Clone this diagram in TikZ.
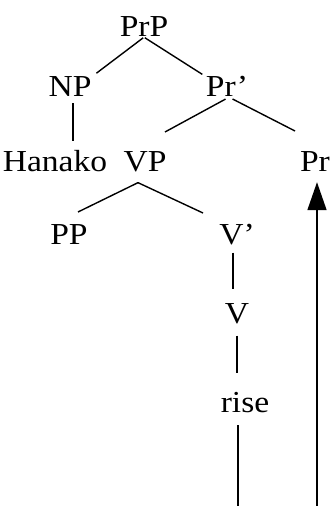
\documentclass[tikz,border=0pt]{standalone}
\usepackage{fontspec}
\setmainfont{Liberation Serif}[FakeStretch=1.1]
\usetikzlibrary{arrows.meta}

\begin{document}
\begin{tikzpicture}[x=1pt, y=1pt,
    cat/.style={inner sep=0pt, anchor=base, font=\fontsize{30.5}{36}\selectfont},
    branch/.style={line width=1.4pt}]
    \useasboundingbox (0,0) rectangle (332,506);
    % Category labels
    \node[cat] (PrP) at (144,469) {PrP};
    \node[cat] (NP) at (70,409) {NP};
    \node[cat] (Prbar) at (227,409) {Pr’};
    \node[cat] (Hanako) at (55,334) {Hanako};
    \node[cat] (VP) at (145,334) {VP};
    \node[cat] (Pr) at (315,334) {Pr};
    \node[cat] (PP) at (69,261) {PP};
    \node[cat] (Vbar) at (237,261) {V’};
    \node[cat] (V) at (237,182) {V};
    \node[cat] (rise) at (245,93) {rise};

    % Free ends of the branches
    \coordinate (PrbarL) at (165,374);
    \coordinate (PrbarR) at (295,375);
    \coordinate (VPL) at (78,294);
    \coordinate (VPR) at (203,293);
    \coordinate (risefoot) at (238,0);
    \coordinate (arrowfoot) at (317,0);

    % Branches
    \draw[branch, shorten <=1pt, shorten >=6pt] (PrP.south) -- (NP.north east);
    \draw[branch, shorten <=1pt, shorten >=4pt] (PrP.south) -- (Prbar.north west);
    \draw[branch, shorten <=6pt, shorten >=10pt] ([xshift=3pt]NP.south) -- ([xshift=3pt]NP.south |- Hanako.north);
    \draw[branch, shorten <=4pt] ([xshift=2pt]Prbar.south) -- (PrbarL);
    \draw[branch, shorten <=4pt] ([xshift=2pt]Prbar.south) -- (PrbarR);
    \draw[branch] ([xshift=-7pt,yshift=-10pt]VP.south) -- (VPL);
    \draw[branch] ([xshift=-7pt,yshift=-10pt]VP.south) -- (VPR);
    \draw[branch, shorten <=7pt, shorten >=15pt] ([xshift=-4pt]Vbar.south) -- ([xshift=-4pt]Vbar.south |- V.north);
    \draw[branch, shorten <=11pt, shorten >=20pt] (V.south) -- (V.south |- rise.north);
    \draw[branch, shorten <=12pt] (risefoot |- rise.south) -- (risefoot);

    % Movement arrow
    \draw[line width=1.6pt, -{Triangle[length=28pt,width=19pt]}, shorten >=10pt] (arrowfoot) -- (arrowfoot |- Pr.south);
\end{tikzpicture}
\end{document}
